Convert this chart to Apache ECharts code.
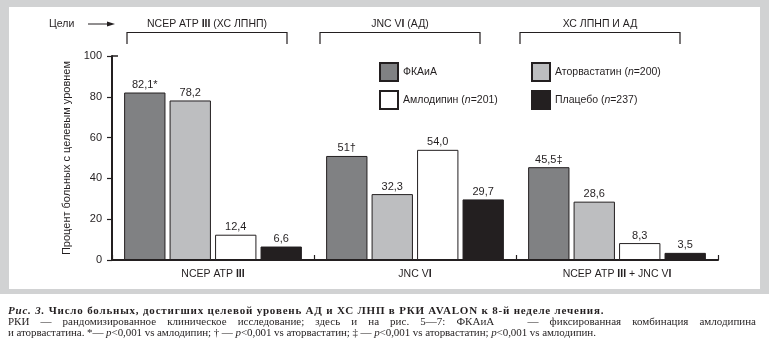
<!DOCTYPE html>
<html>
<head>
<meta charset="utf-8">
<script src="https://cdn.jsdelivr.net/npm/echarts@6/dist/echarts.min.js"></script>
<style>
  html, body { margin: 0; padding: 0; background: #fff; }
  #wrap { position: relative; width: 769px; height: 363px; overflow: hidden; }
  #chart { position: absolute; left: 0; top: 0; width: 769px; height: 363px; }
  #caption { position: absolute; left: 8px; top: 305px; width: 748px; font-family: "Liberation Serif", "Times New Roman", serif; font-size: 11px; line-height: 11px; color: #231f20; }
  #caption div { white-space: nowrap; }
  #caption .l1 { letter-spacing: 0.8px; }
  #caption .l2 { white-space: normal; text-align: justify; text-align-last: justify; }
  #caption .l3 { letter-spacing: -0.07px; }
</style>
</head>
<body>
<div id="wrap">
  <div id="chart"></div>
  <div id="caption">
    <div class="l1"><b><i>Рис. 3.</i> Число больных, достигших целевой уровень АД и ХС ЛНП в РКИ AVALON к 8-й неделе лечения.</b></div>
    <div class="l2">РКИ — рандомизированное клиническое исследование; здесь и на рис. 5—7: ФКАиА&nbsp;&nbsp; — фиксированная комбинация амлодипина</div>
    <div class="l3">и аторвастатина. *— <i>p</i>&lt;0,001 vs амлодипин; † — <i>p</i>&lt;0,001 vs аторвастатин; ‡ — <i>p</i>&lt;0,001 vs аторвастатин; <i>p</i>&lt;0,001 vs амлодипин.</div>
  </div>
</div>
<script>
// ---- data ----
const categories = ['NCEP ATP III', 'JNC VI', 'NCEP ATP III + JNC VI'];
const seriesNames = ['ФКАиА', 'Аторвастатин (n=200)', 'Амлодипин (n=201)', 'Плацебо (n=237)'];
const fkaia   = [82.1, 51.0, 45.5];
const atorva  = [78.2, 32.3, 28.6];
const amlo    = [12.4, 54.0, 8.3];
const placebo = [6.6, 29.7, 3.5];
const fkaiaLabels   = ['82,1*', '51†', '45,5‡'];
const atorvaLabels  = ['78,2', '32,3', '28,6'];
const amloLabels    = ['12,4', '54,0', '8,3'];
const placeboLabels = ['6,6', '29,7', '3,5'];
const yTicks = { min: 0, max: 100, interval: 20 };
const goalLabels = ['NCEP ATP {b|III} (ХС ЛПНП)', 'JNC V{b|I} (АД)', 'ХС ЛПНП И АД'];

// ---- styling ----
const FONT = '"Liberation Sans", Arial, sans-serif';
const INK = '#231f20';
const colors = ['#808183', '#bdbec0', '#ffffff', '#231f20'];
const richB = { b: { fontWeight: 'bold', fontSize: 10.5, fontFamily: FONT, color: INK } };

const chart = echarts.init(document.getElementById('chart'), null, { renderer: 'canvas' });

function makeSeries(name, data, labels, color) {
  return {
    name: name,
    type: 'bar',
    data: data,
    barCategoryGap: '12%',
    barGap: '10%',
    itemStyle: { color: color, borderColor: INK, borderWidth: 1 },
    label: {
      show: true, position: 'top', distance: 2,
      fontSize: 11, fontFamily: FONT, color: INK,
      formatter: p => labels[p.dataIndex]
    },
    emphasis: { disabled: true },
    animation: false
  };
}

const legendText = {
  fontSize: 10.5, fontFamily: FONT, color: INK,
  rich: {
    t: { fontSize: 10.5, fontFamily: FONT, color: INK },
    i: { fontSize: 10.5, fontFamily: FONT, color: INK, fontStyle: 'italic' }
  }
};
const legendFmt = name => name.replace('n=', '{i|n}{t|=}');

const groupCenters = [207, 400, 600];
const bracketHalf = 80;
const graphics = [
  // gray frame
  { type: 'rect', z: -10, silent: true, shape: { x: 0, y: 0, width: 769, height: 294 }, style: { fill: '#d1d2d3' } },
  { type: 'rect', z: -9, silent: true, shape: { x: 9, y: 7, width: 751, height: 282 }, style: { fill: '#ffffff' } },
  // "Цели" + arrow
  { type: 'text', silent: true, style: { x: 49, y: 24, text: 'Цели', font: '10.5px ' + FONT, fill: INK, verticalAlign: 'middle' } },
  { type: 'line', silent: true, shape: { x1: 88, y1: 24, x2: 108, y2: 24 }, style: { stroke: INK, lineWidth: 1 } },
  { type: 'polygon', silent: true, shape: { points: [[107, 21.5], [115, 24], [107, 26.5]] }, style: { fill: INK } }
];
groupCenters.forEach((cx, i) => {
  graphics.push({
    type: 'text', silent: true,
    style: { x: cx, y: 24, text: goalLabels[i], font: '10.5px ' + FONT, fill: INK, align: 'center', verticalAlign: 'middle', rich: richB }
  });
  graphics.push({
    type: 'polyline', silent: true,
    shape: { points: [[cx - bracketHalf, 44], [cx - bracketHalf, 32.5], [cx + bracketHalf, 32.5], [cx + bracketHalf, 44]] },
    style: { stroke: INK, lineWidth: 1.2, fill: null }
  });
});

const option = {
  animation: false,
  backgroundColor: '#ffffff',
  color: colors,
  grid: { left: 112, right: 51, top: 56, bottom: 103, containLabel: false },
  legend: [
    {
      data: [seriesNames[0], seriesNames[2]],
      orient: 'vertical', left: 379, top: 62, padding: 0,
      itemWidth: 18, itemHeight: 18, itemGap: 8, icon: 'rect',
      textStyle: legendText, formatter: legendFmt, selectedMode: false
    },
    {
      data: [seriesNames[1], seriesNames[3]],
      orient: 'vertical', left: 531, top: 62, padding: 0,
      itemWidth: 18, itemHeight: 18, itemGap: 8, icon: 'rect',
      textStyle: legendText, formatter: legendFmt, selectedMode: false
    }
  ],
  xAxis: {
    type: 'category',
    data: categories,
    axisLine: { show: true, lineStyle: { color: INK, width: 2 } },
    axisTick: { show: true, inside: true, length: 5, lineStyle: { color: INK, width: 1.2 } },
    axisLabel: {
      margin: 9, fontSize: 10.5, fontFamily: FONT, color: INK,
      formatter: v => v.replace(/III/, '{b|III}').replace(/VI$/, 'V{b|I}'),
      rich: richB
    },
    splitLine: { show: false }
  },
  yAxis: {
    type: 'value',
    min: yTicks.min, max: yTicks.max, interval: yTicks.interval,
    name: 'Процент больных с целевым уровнем',
    nameLocation: 'middle', nameGap: 31,
    nameTextStyle: { fontSize: 11, fontFamily: FONT, color: INK },
    axisLine: { show: true, lineStyle: { color: INK, width: 2 } },
    axisTick: { show: true, inside: false, length: 5, lineStyle: { color: INK, width: 1.2 } },
    axisLabel: { margin: 10, fontSize: 11, fontFamily: FONT, color: INK },
    splitLine: { show: false }
  },
  graphic: graphics,
  series: [
    makeSeries(seriesNames[0], fkaia, fkaiaLabels, colors[0]),
    makeSeries(seriesNames[1], atorva, atorvaLabels, colors[1]),
    makeSeries(seriesNames[2], amlo, amloLabels, colors[2]),
    makeSeries(seriesNames[3], placebo, placeboLabels, colors[3])
  ]
};
chart.setOption(option);

// small inward tick at the top of the y axis (from the axis scale)
const topY = chart.convertToPixel({ yAxisIndex: 0 }, yTicks.max);
const axisX = chart.convertToPixel({ xAxisIndex: 0 }, 0) - (chart.convertToPixel({ xAxisIndex: 0 }, 1) - chart.convertToPixel({ xAxisIndex: 0 }, 0)) / 2;
graphics.push({ type: 'line', silent: true, shape: { x1: axisX, y1: topY, x2: axisX + 6, y2: topY }, style: { stroke: INK, lineWidth: 1.5 } });
chart.setOption({ graphic: graphics });
</script>
</body>
</html>
